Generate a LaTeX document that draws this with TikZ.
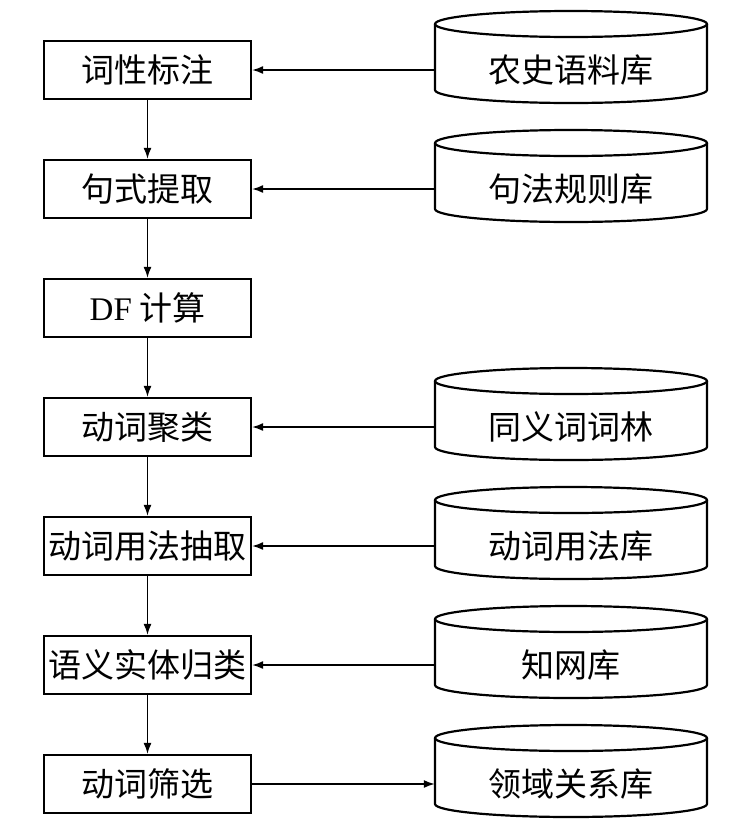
\documentclass[tikz,border=0pt]{standalone}
\usepackage{fontspec}
\setmainfont{Liberation Serif}
\newfontfamily\cjk{Noto Sans CJK SC}
\usetikzlibrary{arrows.meta}

\begin{document}
\begin{tikzpicture}[x=1pt,y=-1pt,
  box/.style={draw,line width=2.2pt,minimum width=207pt,minimum height=58pt,inner sep=0pt,font=\cjk\fontsize{33}{36}\selectfont},
  dbtext/.style={minimum width=272pt,minimum height=40pt,inner sep=0pt,font=\cjk\fontsize{33}{36}\selectfont},
  cyl/.style={line width=2.2pt},
  arr/.style={-{Latex[length=11pt,width=8pt]},line width=1.6pt}]
  \useasboundingbox (0,0) rectangle (731,836);
  % processing steps
  \foreach \n/\y/\t in {b1/70/词性标注,b2/189/句式提取,b3/308/{{\rmfamily DF} 计算},b4/427/动词聚类,
                        b5/546/动词用法抽取,b6/665/语义实体归类,b7/784/动词筛选}{
    \node[box] (\n) at (147.5,\y) {\t};
  }
  % resource databases
  \foreach \n/\y/\t in {db1/70/农史语料库,db2/189/句法规则库,db3/427/同义词词林,
                        db4/546/动词用法库,db5/665/知网库,db6/784/领域关系库}{
    \draw[cyl] (435,\y-46) -- (435,\y+20) arc[start angle=180,end angle=0,x radius=136,y radius=13] -- (707,\y-46);
    \draw[cyl] (571,\y-46) ellipse[x radius=136,y radius=13];
    \node[dbtext] (\n) at (571,\y) {\t};
  }
  % flow
  \foreach \a/\b in {b1/b2,b2/b3,b3/b4,b4/b5,b5/b6,b6/b7}
    \draw[arr] (\a) -- (\b);
  \foreach \a/\b in {db1/b1,db2/b2,db3/b4,db4/b5,db5/b6,b7/db6}
    \draw[arr] (\a) -- (\b);
\end{tikzpicture}
\end{document}
